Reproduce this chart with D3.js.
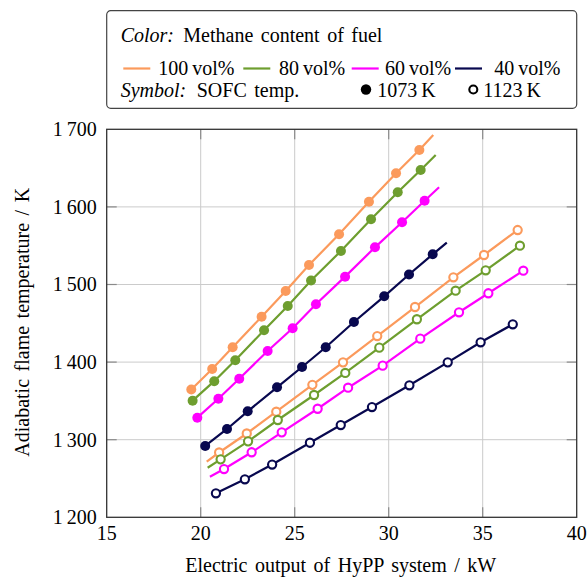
<!DOCTYPE html>
<html>
<head>
<meta charset="utf-8">
<script src="https://cdn.jsdelivr.net/npm/d3@7"></script>
<style>
  body { margin: 0; background: #fff; }
  svg text { font-family: "Liberation Serif", "Times New Roman", serif; fill: #000; }
</style>
</head>
<body>
<div id="chart"></div>
<script>
// fuel labels and colours
const fuels = ["100 vol%", "80 vol%", "60 vol%", "40 vol%"];
const fuelColors = ["#fb9a5c", "#6e9e2f", "#ff00ff", "#08084f"];

// SOFC at 1073 K (filled markers)
const x100_1073 = [19.50, 20.61, 21.70, 23.24, 24.52, 25.76, 27.36, 28.95, 30.39, 31.63];
const t100_1073 = [1364.7, 1391.1, 1419.1, 1458.5, 1491.6, 1525.1, 1564.7, 1606.7, 1643.3, 1673.3];
const x80_1073 = [19.57, 20.72, 21.84, 23.37, 24.63, 25.87, 27.46, 29.06, 30.48, 31.70];
const t80_1073 = [1350.3, 1375.4, 1402.4, 1441.0, 1472.3, 1505.2, 1543.2, 1584.0, 1618.8, 1647.6];
const x60_1073 = [19.82, 20.94, 22.05, 23.56, 24.89, 26.13, 27.68, 29.27, 30.71, 31.91];
const t60_1073 = [1328.4, 1352.8, 1378.6, 1414.3, 1443.6, 1474.5, 1510.1, 1547.9, 1580.2, 1608.0];
const x40_1073 = [20.24, 21.40, 22.50, 24.06, 25.39, 26.65, 28.15, 29.76, 31.08, 32.34];
const t40_1073 = [1291.9, 1313.8, 1336.6, 1367.5, 1393.7, 1419.1, 1451.7, 1484.8, 1512.9, 1538.9];

// SOFC at 1123 K (open markers)
const x100_1123 = [20.98, 22.45, 24.02, 25.94, 27.57, 29.39, 31.40, 33.44, 35.07, 36.86];
const t100_1123 = [1283.5, 1308.0, 1336.1, 1370.7, 1399.7, 1433.6, 1471.0, 1509.3, 1538.0, 1570.2];
const x80_1123 = [21.06, 22.52, 24.10, 26.03, 27.69, 29.50, 31.50, 33.56, 35.16, 36.98];
const t80_1123 = [1274.7, 1297.9, 1325.4, 1357.6, 1386.0, 1418.6, 1455.2, 1492.0, 1518.3, 1550.0];
const x60_1123 = [21.24, 22.71, 24.31, 26.22, 27.84, 29.68, 31.68, 33.74, 35.30, 37.16];
const t60_1123 = [1262.2, 1283.8, 1309.5, 1339.9, 1367.0, 1395.4, 1430.2, 1464.2, 1488.7, 1517.8];
const x40_1123 = [20.81, 22.35, 23.80, 25.81, 27.45, 29.11, 31.10, 33.14, 34.89, 36.60];
const t40_1123 = [1230.9, 1249.0, 1268.0, 1296.1, 1318.9, 1342.1, 1370.1, 1399.7, 1425.5, 1448.7];

// where the trend lines run past the markers
const lineEndX1073 = [32.37, 32.50, 32.68, 33.09];
const lineEndT1073 = [1692.7, 1666.9, 1625.3, 1553.9];
const lineStartX1123 = [20.32, 20.37, 20.49, null];
const lineStartT1123 = [1271.6, 1263.9, 1252.3, null];

const xTicks = [15, 20, 25, 30, 35, 40];
const yTicks = [1200, 1300, 1400, 1500, 1600, 1700];

const W = 587, H = 579;
const margin = { top: 129.3, right: 10.3, bottom: 61.7, left: 106.7 };
const width = W - margin.left - margin.right;
const height = H - margin.top - margin.bottom;
const fs = "20px";

const svg = d3.select("#chart").append("svg")
  .attr("width", W).attr("height", H);

const g = svg.append("g").attr("transform", `translate(${margin.left},${margin.top})`);

const x = d3.scaleLinear().domain([15, 40]).range([0, width]);
const y = d3.scaleLinear().domain([1200, 1700]).range([height, 0]);

// grid
g.append("g").selectAll("line").data(xTicks.slice(1, -1)).join("line")
  .attr("x1", d => x(d)).attr("x2", d => x(d)).attr("y1", 0).attr("y2", height)
  .attr("stroke", "#cbcbcb").attr("stroke-width", 1);
g.append("g").selectAll("line").data(yTicks.slice(1, -1)).join("line")
  .attr("y1", d => y(d)).attr("y2", d => y(d)).attr("x1", 0).attr("x2", width)
  .attr("stroke", "#cbcbcb").attr("stroke-width", 1);

// inside ticks on all four sides
const tl = 10;
const tickG = g.append("g").attr("stroke", "#8a8a8a").attr("stroke-width", 1.2);
xTicks.slice(1, -1).forEach(d => {
  tickG.append("line").attr("x1", x(d)).attr("x2", x(d)).attr("y1", height).attr("y2", height - tl);
  tickG.append("line").attr("x1", x(d)).attr("x2", x(d)).attr("y1", 0).attr("y2", tl);
});
yTicks.slice(1, -1).forEach(d => {
  tickG.append("line").attr("y1", y(d)).attr("y2", y(d)).attr("x1", 0).attr("x2", tl);
  tickG.append("line").attr("y1", y(d)).attr("y2", y(d)).attr("x1", width).attr("x2", width - tl);
});

// frame
g.append("rect").attr("width", width).attr("height", height)
  .attr("fill", "none").attr("stroke", "#333").attr("stroke-width", 1.3);

// tick labels
const fmtY = d => String(d).replace(/^(\d)(\d{3})$/, "$1\u2009$2");
g.append("g").selectAll("text").data(yTicks).join("text")
  .attr("x", -10).attr("y", d => y(d)).attr("dy", "0.35em")
  .attr("text-anchor", "end").style("font-size", fs)
  .text(fmtY);
g.append("g").selectAll("text").data(xTicks).join("text")
  .attr("x", d => x(d)).attr("y", height + 23)
  .attr("text-anchor", "middle").style("font-size", fs)
  .text(d => d);

// axis titles
svg.append("text").attr("x", margin.left + width / 2 - 1).attr("y", 572)
  .attr("text-anchor", "middle").style("font-size", fs).style("word-spacing", "2.5px")
  .text("Electric output of HyPP system / kW");
svg.append("text")
  .attr("transform", `translate(29,${margin.top + height / 2 - 1}) rotate(-90)`)
  .attr("text-anchor", "middle").style("font-size", fs).style("word-spacing", "2.5px")
  .text("Adiabatic flame temperature / K");

// series
const set1073 = [[x100_1073, t100_1073], [x80_1073, t80_1073], [x60_1073, t60_1073], [x40_1073, t40_1073]];
const set1123 = [[x100_1123, t100_1123], [x80_1123, t80_1123], [x60_1123, t60_1123], [x40_1123, t40_1123]];

const line = d3.line().x(d => x(d[0])).y(d => y(d[1]));

set1123.forEach(([xs, ts], i) => {
  let pts = xs.map((v, j) => [v, ts[j]]);
  if (lineStartX1123[i] != null) pts = [[lineStartX1123[i], lineStartT1123[i]]].concat(pts);
  g.append("path").datum(pts).attr("d", line)
    .attr("fill", "none").attr("stroke", fuelColors[i]).attr("stroke-width", 2.2);
});
set1073.forEach(([xs, ts], i) => {
  const pts = xs.map((v, j) => [v, ts[j]]).concat([[lineEndX1073[i], lineEndT1073[i]]]);
  g.append("path").datum(pts).attr("d", line)
    .attr("fill", "none").attr("stroke", fuelColors[i]).attr("stroke-width", 2.2);
});

set1123.forEach(([xs, ts], i) => {
  g.append("g").selectAll("circle").data(xs.map((v, j) => [v, ts[j]])).join("circle")
    .attr("cx", d => x(d[0])).attr("cy", d => y(d[1])).attr("r", 4.1)
    .attr("fill", "#fff").attr("stroke", fuelColors[i]).attr("stroke-width", 2.1);
});
set1073.forEach(([xs, ts], i) => {
  g.append("g").selectAll("circle").data(xs.map((v, j) => [v, ts[j]])).join("circle")
    .attr("cx", d => x(d[0])).attr("cy", d => y(d[1])).attr("r", 5)
    .attr("fill", fuelColors[i]);
});

// legend
const lg = svg.append("g");
lg.append("rect").attr("x", 106.7).attr("y", 10.7).attr("width", 470).attr("height", 97.6)
  .attr("rx", 4).attr("fill", "#fff").attr("stroke", "#444").attr("stroke-width", 1.2);

const row1 = lg.append("text").attr("x", 120.7).attr("y", 42).style("font-size", fs).style("word-spacing", "2.5px");
row1.append("tspan").style("font-style", "italic").text("Color:");
row1.append("tspan").attr("x", 183.3).text("Methane content of fuel");

const segX = [123.3, 243.3, 351.7, 455];
const labX = [158.3, 279, 385, 494.3];
fuels.forEach((f, i) => {
  lg.append("line").attr("x1", segX[i]).attr("x2", segX[i] + 27).attr("y1", 68.5).attr("y2", 68.5)
    .attr("stroke", fuelColors[i]).attr("stroke-width", 2.2);
  lg.append("text").attr("x", labX[i]).attr("y", 74.5).style("font-size", fs)
    .text(f.replace(" ", "\u2009"));
});

const row3 = lg.append("text").attr("x", 120.7).attr("y", 97).style("font-size", fs).style("word-spacing", "2.5px");
row3.append("tspan").style("font-style", "italic").text("Symbol:");
row3.append("tspan").attr("x", 196.7).text("SOFC temp.");
lg.append("circle").attr("cx", 366).attr("cy", 89.5).attr("r", 5.2).attr("fill", "#000");
lg.append("text").attr("x", 377.3).attr("y", 97).style("font-size", fs).text("1073\u2009K");
lg.append("circle").attr("cx", 473.3).attr("cy", 89.5).attr("r", 4)
  .attr("fill", "#fff").attr("stroke", "#000").attr("stroke-width", 2.1);
lg.append("text").attr("x", 483.3).attr("y", 97).style("font-size", fs).text("1123\u2009K");
</script>
</body>
</html>
